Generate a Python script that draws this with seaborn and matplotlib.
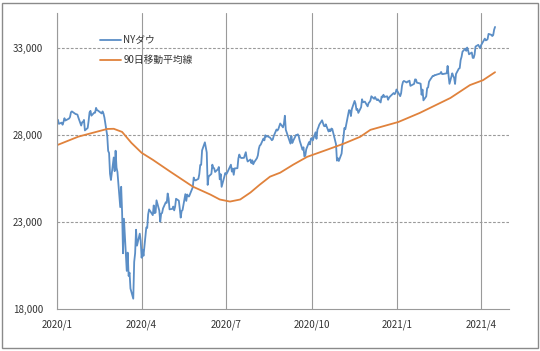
import numpy as np
import pandas as pd
import matplotlib
matplotlib.use("Agg")
import matplotlib.pyplot as plt
import matplotlib.dates as mdates
from matplotlib.ticker import FuncFormatter, FixedLocator
from matplotlib.patches import Rectangle
import seaborn as sns

# ---- data -------------------------------------------------------------
series_names = ["NYダウ", "90日移動平均線"]

market_holidays = ["2020-01-20", "2020-02-17", "2020-04-10", "2020-05-25",
                   "2020-07-03", "2020-09-07", "2020-11-26", "2020-12-25",
                   "2021-01-01", "2021-01-18", "2021-02-15", "2021-04-02"]
first_day = "2020-01-02"
last_day = "2021-04-16"

dow_2020 = [
    # Jan
    28868, 28634, 28703, 28583, 28745, 28957, 28824, 28907, 28940, 29030, 29298,
    29348, 29196, 29186, 29160, 28990, 28536, 28723, 28734, 28860, 28256,
    # Feb
    28399, 28808, 29291, 29380, 29103, 29276, 29276, 29551, 29424, 29398, 29232,
    29348, 29220, 28992, 27961, 27081, 26958, 25767, 25409,
    # Mar
    26703, 25917, 27091, 26121, 25865, 23851, 25018, 23553, 21200, 23186, 20189,
    21237, 19899, 20087, 19174, 18592, 20705, 21200, 22552, 21637, 22328, 21917,
    # Apr
    20944, 21413, 21053, 22680, 22654, 23434, 23719, 23390, 23950, 23505, 23538,
    24242, 23650, 23019, 23475, 23516, 23775, 24134, 24101, 24634, 24346,
    # May
    23724, 23750, 23883, 23664, 23875, 24331, 24222, 23765, 23248, 23625, 23685,
    24597, 24207, 24576, 24474, 24465, 24995, 25548, 25401, 25383,
    # Jun
    25475, 25742, 26270, 26282, 27111, 27572, 27273, 26990, 25128, 25606, 25763,
    26290, 26120, 26080, 25871, 26025, 26156, 25446, 25745, 25016, 25596, 25813,
    # Jul
    25735, 25827, 26287, 25891, 26067, 25707, 26075, 26086, 26643, 26870, 26735,
    26672, 26681, 26840, 27005, 26653, 26470, 26585, 26379, 26540, 26314, 26428,
    # Aug
    26665, 26828, 27202, 27387, 27433, 27791, 27687, 27977, 27897, 27931, 27845,
    27779, 27693, 27740, 27930, 28308, 28249, 28332, 28493, 28654, 28430,
    # Sep
    28646, 29100, 28293, 28133, 27500, 27940, 27535, 27666, 27993, 27996, 28032,
    27902, 27657, 27148, 27288, 26763, 26815, 27174, 27584, 27452, 27782,
    # Oct
    27817, 27683, 28149, 27773, 28303, 28426, 28587, 28838, 28680, 28515, 28494,
    28606, 28196, 28309, 28211, 28364, 28336, 27685, 27464, 26520, 26660, 26502,
    # Nov
    26925, 27481, 27848, 28390, 28323, 29158, 29421, 29398, 29080, 29480, 29950,
    29784, 29438, 29483, 29263, 29592, 30046, 29873, 29910, 29639,
    # Dec
    29824, 29884, 29970, 30218, 30070, 30174, 30068, 29999, 30046, 29862, 30200,
    30155, 30304, 30179, 30216, 30016, 30130, 30200, 30404, 30336, 30410, 30606,
]
dow_2021 = [
    # Jan
    30224, 30392, 30829, 31041, 31098, 31009, 31068, 31061, 31113, 30814, 30931,
    31188, 31176, 30997, 30960, 30937, 30303, 30603, 29983,
    # Feb
    30212, 30688, 30724, 31056, 31148, 31386, 31376, 31438, 31431, 31458, 31523,
    31613, 31494, 31494, 31522, 31537, 31962, 31402, 30932,
    # Mar
    31535, 31391, 31270, 30924, 31496, 31802, 31833, 32298, 32486, 32779, 32953,
    32826, 33015, 32862, 32628, 32732, 32423, 32420, 32619, 33073, 33171, 33067,
    32982,
    # Apr
    33153, 33527, 33430, 33446, 33504, 33801, 33746, 33677, 33730, 34036, 34200,
]

ma_dates = ["2020-01-02", "2020-01-24", "2020-02-24", "2020-03-02", "2020-03-11",
            "2020-03-21", "2020-04-01", "2020-04-13", "2020-05-02", "2020-05-26",
            "2020-06-14", "2020-06-24", "2020-07-05", "2020-07-16", "2020-07-27",
            "2020-08-06", "2020-08-17", "2020-08-28", "2020-09-11", "2020-09-26",
            "2020-10-17", "2020-11-04", "2020-11-22", "2020-12-03", "2021-01-02",
            "2021-01-25", "2021-02-27", "2021-03-20", "2021-04-03", "2021-04-16"]
ma_values = [27430, 27900, 28340, 28350, 28170,
             27540, 26970, 26570, 25880, 25030,
             24570, 24290, 24170, 24290, 24690,
             25140, 25600, 25830, 26290, 26740,
             27140, 27490, 27890, 28290, 28740,
             29260, 30120, 30860, 31140, 31600]

y_ticks = [18000, 23000, 28000, 33000]
x_tick_months = [1, 4, 7, 10]

# ---- frames -----------------------------------------------------------
trade_days = pd.bdate_range(first_day, last_day)
trade_days = trade_days[~trade_days.isin(pd.to_datetime(market_holidays))]
dow_values = dow_2020 + dow_2021
n = min(len(trade_days), len(dow_values))

df = pd.concat([
    pd.DataFrame({"date": trade_days[:n], "value": dow_values[:n], "series": series_names[0]}),
    pd.DataFrame({"date": pd.to_datetime(ma_dates), "value": ma_values, "series": series_names[1]}),
])

# ---- style ------------------------------------------------------------
sns.set_style("white")
plt.rcParams["font.family"] = ["Noto Sans CJK JP", "DejaVu Sans"]

blue = "#5b8ec6"
orange = "#e0823c"
grid_c = "#9a9a9a"
text_c = "#333333"

fig = plt.figure(figsize=(5.40, 3.51), dpi=100)
W, H = 540, 351
ax = fig.add_axes([57 / W, 1 - 309 / H, (509 - 57) / W, (309 - 13) / H])

sns.lineplot(data=df, x="date", y="value", hue="series",
             palette={series_names[0]: blue, series_names[1]: orange},
             linewidth=1.3, ax=ax, estimator=None, sort=True)

ax.set_xlim(pd.Timestamp("2020-01-01"), pd.Timestamp("2021-05-01"))
ax.set_ylim(18000, 35000)
ax.set_xlabel("")
ax.set_ylabel("")

ax.yaxis.set_major_locator(FixedLocator(y_ticks))
ax.yaxis.set_major_formatter(FuncFormatter(lambda v, p: f"{int(v):,}"))
ax.xaxis.set_major_locator(mdates.MonthLocator(bymonth=x_tick_months, bymonthday=1))
ax.xaxis.set_major_formatter(FuncFormatter(
    lambda v, p: f"{mdates.num2date(v).year}/{mdates.num2date(v).month}"))

# grids
for yv in y_ticks[1:]:
    ax.axhline(yv, color=grid_c, lw=0.8, ls=(0, (2.5, 1.5)), zorder=0)
ax.xaxis.grid(True, color=grid_c, lw=0.8)
ax.yaxis.grid(False)
ax.set_axisbelow(True)

for s in ["top", "right"]:
    ax.spines[s].set_visible(False)
for s in ["left", "bottom"]:
    ax.spines[s].set_color(grid_c)
    ax.spines[s].set_linewidth(0.8)

ax.tick_params(axis="both", which="major", labelsize=7, colors=grid_c,
               labelcolor=text_c, length=3.5, width=0.8, direction="out")
ax.tick_params(axis="y", pad=6.5)
ax.tick_params(axis="x", pad=4)

ax.legend(loc="upper left", bbox_to_anchor=(0.095, 0.925), frameon=False,
          fontsize=7, handlelength=2.2, handletextpad=0.2,
          labelspacing=1.0, borderpad=0, borderaxespad=0,
          labelcolor=text_c)

fig.add_artist(Rectangle((1.5 / W, 3.5 / H), (W - 4) / W, (H - 6) / H,
                         transform=fig.transFigure, fill=False,
                         ec="#8a8a8a", lw=1.0))

fig.savefig("out.png", dpi=100)
